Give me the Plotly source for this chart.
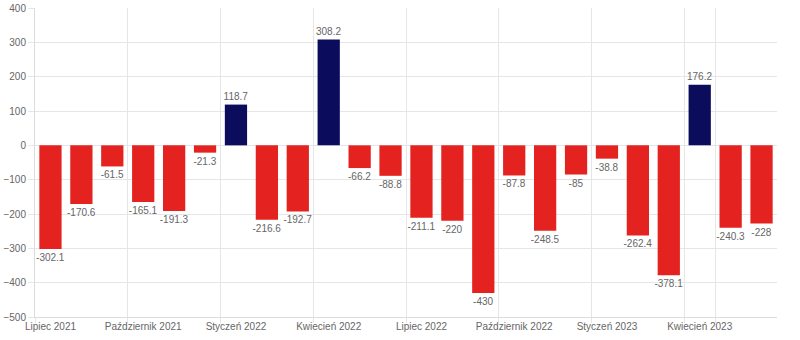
import plotly.graph_objects as go

months = [
    "Lipiec 2021", "Sierpień 2021", "Wrzesień 2021", "Październik 2021",
    "Listopad 2021", "Grudzień 2021", "Styczeń 2022", "Luty 2022",
    "Marzec 2022", "Kwiecień 2022", "Maj 2022", "Czerwiec 2022",
    "Lipiec 2022", "Sierpień 2022", "Wrzesień 2022", "Październik 2022",
    "Listopad 2022", "Grudzień 2022", "Styczeń 2023", "Luty 2023",
    "Marzec 2023", "Kwiecień 2023", "Maj 2023", "Czerwiec 2023",
]
values = [
    -302.1, -170.6, -61.5, -165.1, -191.3, -21.3, 118.7, -216.6,
    -192.7, 308.2, -66.2, -88.8, -211.1, -220, -430, -87.8,
    -248.5, -85, -38.8, -262.4, -378.1, 176.2, -240.3, -228,
]
tick_months = months[::3]

RED = "#e42320"
NAVY = "#0c0c5c"
GRID = "#e6e6e6"
TXT = "#666666"
FONT = "Liberation Sans, Arial, sans-serif"

colors = [NAVY if v > 0 else RED for v in values]
labels = [f"{v:g}" for v in values]

fig = go.Figure(
    go.Bar(
        x=months,
        y=values,
        marker=dict(color=colors, line=dict(width=0)),
        text=labels,
        textposition="outside",
        constraintext="none",
        cliponaxis=False,
        textfont=dict(family=FONT, size=10, color=TXT),
        hoverinfo="x+y",
    )
)

fig.update_layout(
    width=800,
    height=340,
    margin=dict(l=35, r=23, t=8, b=23),
    paper_bgcolor="white",
    plot_bgcolor="white",
    bargap=0.28,
    showlegend=False,
    font=dict(family=FONT, size=10, color=TXT),
)

fig.update_xaxes(
    type="category",
    tickmode="array",
    tickvals=tick_months,
    ticktext=tick_months,
    tickson="boundaries",
    tickangle=0,
    automargin=False,
    showgrid=True,
    gridcolor=GRID,
    gridwidth=1,
    ticks="outside",
    ticklen=5,
    tickcolor=GRID,
    showline=True,
    linecolor="#dcdcdc",
    tickfont=dict(family=FONT, size=10, color=TXT),
)

fig.update_yaxes(
    range=[-500, 400],
    dtick=100,
    tick0=0,
    automargin=False,
    showgrid=True,
    gridcolor=GRID,
    gridwidth=1,
    zeroline=True,
    zerolinecolor=GRID,
    zerolinewidth=1,
    ticks="outside",
    ticklen=6,
    tickcolor=GRID,
    showline=True,
    linecolor="#dcdcdc",
    tickfont=dict(family=FONT, size=10, color=TXT),
)

fig.write_html("out.html")
